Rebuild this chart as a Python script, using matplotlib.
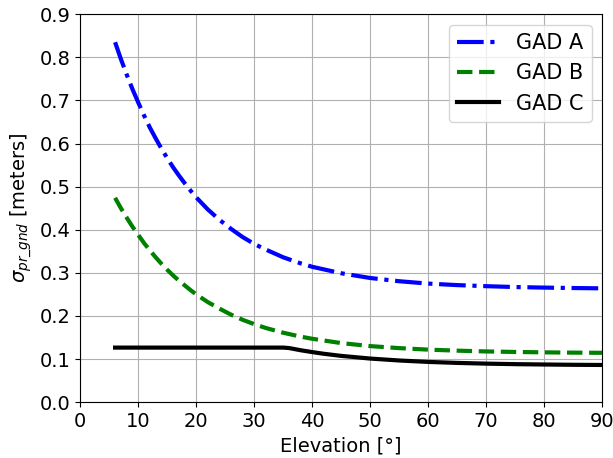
import matplotlib
matplotlib.use("Agg")
import matplotlib.pyplot as plt

# valores
elev_ab = [6, 7, 8, 9, 10, 11, 12, 13, 14, 15, 16, 17, 18, 19, 20, 22, 24, 26, 28, 30,
           32, 35, 38, 40, 45, 50, 55, 60, 65, 70, 75, 80, 85, 90]
gad_a = [0.835, 0.796, 0.760, 0.726, 0.695, 0.665, 0.637, 0.612, 0.588, 0.566, 0.545,
         0.526, 0.508, 0.491, 0.475, 0.447, 0.423, 0.402, 0.383, 0.367, 0.354, 0.336,
         0.322, 0.314, 0.299, 0.288, 0.2805, 0.275, 0.2715, 0.269, 0.267, 0.2657,
         0.2647, 0.264]
gad_b = [0.474, 0.450, 0.428, 0.407, 0.388, 0.369, 0.352, 0.336, 0.321, 0.307, 0.294,
         0.282, 0.271, 0.260, 0.250, 0.232, 0.217, 0.203, 0.191, 0.181, 0.172, 0.161,
         0.152, 0.147, 0.137, 0.130, 0.1253, 0.1218, 0.1194, 0.1176, 0.1164, 0.1155,
         0.1148, 0.1144]

elev_c = [6, 35, 36, 38, 40, 42, 45, 50, 55, 60, 65, 70, 75, 80, 85, 90]
gad_c = [0.1265, 0.1265, 0.1255, 0.1204, 0.1161, 0.1122, 0.1073, 0.1011, 0.0966,
         0.0933, 0.0910, 0.0893, 0.0881, 0.0873, 0.0866, 0.0862]

plt.rcParams['font.size'] = 14

fig = plt.figure(figsize=(6.13, 4.58), dpi=100)
ax = fig.add_axes([0.131, 0.122, 0.851, 0.847])

ax.plot(elev_ab, gad_a, '-.', color='blue', linewidth=3, label='GAD A')
ax.plot(elev_ab, gad_b, '--', color='green', linewidth=3, label='GAD B')
ax.plot(elev_c, gad_c, '-', color='black', linewidth=3, label='GAD C')

ax.set_xlim(0, 90)
ax.set_ylim(0, 0.9)
ax.set_xticks(range(0, 91, 10))
ax.set_yticks([i / 10 for i in range(10)])
ax.grid(True)
ax.set_xlabel('Elevation [°]')
ax.set_ylabel(r'$\sigma_{pr\_gnd}$ [meters]')
ax.legend(loc='upper right', fontsize=15)

fig.savefig('out.png', dpi=100)
